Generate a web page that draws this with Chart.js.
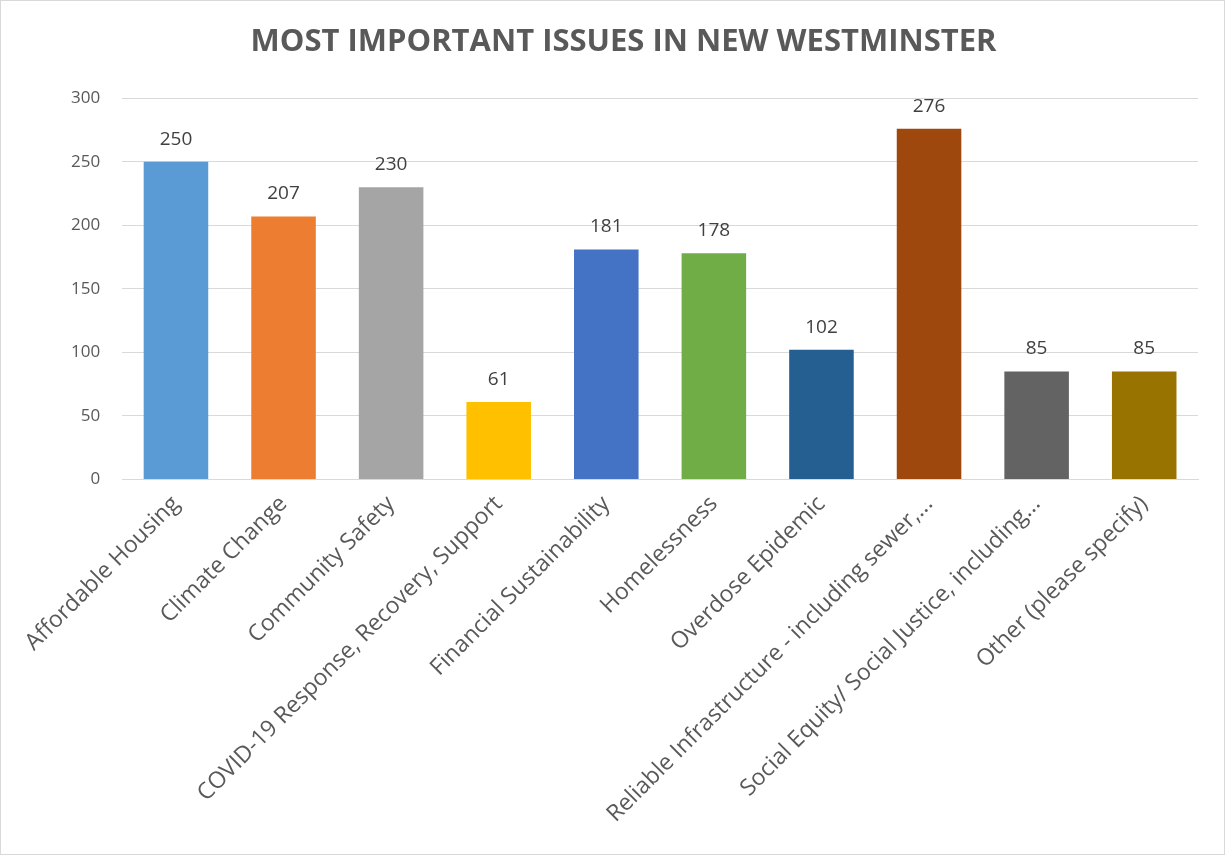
<!DOCTYPE html>
<html>
<head>
<meta charset="utf-8">
<script src="https://cdn.jsdelivr.net/npm/chart.js@4/dist/chart.umd.min.js"></script>
<style>
  html, body { margin: 0; padding: 0; background: #fff; }
  #wrap { width: 1223px; height: 853px; border: 1px solid #d9d9d9; position: relative; }
  canvas { display: block; }
</style>
</head>
<body>
<div id="wrap"><canvas id="chart"></canvas></div>
<script>
// chart data
const issues = [
  'Affordable Housing',
  'Climate Change',
  'Community Safety',
  'COVID-19 Response, Recovery, Support',
  'Financial Sustainability',
  'Homelessness',
  'Overdose Epidemic',
  'Reliable Infrastructure - including sewer,...',
  'Social Equity/ Social Justice, including...',
  'Other (please specify)'
];
const counts = [250, 207, 230, 61, 181, 178, 102, 276, 85, 85];
const barColors = ['#5B9BD5', '#ED7D31', '#A5A5A5', '#FFC000', '#4472C4', '#70AD47', '#255E91', '#9E480E', '#636363', '#997300'];

// value labels above each bar
const valueLabels = {
  id: 'valueLabels',
  afterDatasetsDraw(chart) {
    const ctx = chart.ctx;
    const meta = chart.getDatasetMeta(0);
    ctx.save();
    ctx.font = '19px "Open Sans", sans-serif';
    ctx.fillStyle = '#404040';
    ctx.textAlign = 'center';
    ctx.textBaseline = 'bottom';
    meta.data.forEach((bar, i) => {
      ctx.fillText(String(counts[i]), bar.x, bar.y - 13);
    });
    ctx.restore();
  }
};

new Chart(document.getElementById('chart'), {
  type: 'bar',
  data: {
    labels: issues,
    datasets: [{ data: counts, backgroundColor: barColors, barPercentage: 0.6, categoryPercentage: 1.0 }]
  },
  options: {
    responsive: true,
    maintainAspectRatio: false,
    animation: false,
    layout: { padding: { top: 10, right: 26, bottom: 23, left: 48 } },
    plugins: {
      legend: { display: false },
      tooltip: { enabled: false },
      title: {
        display: true,
        text: 'MOST IMPORTANT ISSUES IN NEW WESTMINSTER',
        color: '#595959',
        font: { family: '"Open Sans", sans-serif', size: 31, weight: 'bold' },
        padding: { top: 13, bottom: 37 }
      }
    },
    scales: {
      x: {
        grid: { display: false },
        border: { color: '#d9d9d9' },
        ticks: {
          color: '#595959',
          font: { family: '"Open Sans", sans-serif', size: 23 },
          minRotation: 45,
          maxRotation: 45,
          autoSkip: false
        }
      },
      y: {
        min: 0,
        max: 300,
        grid: { color: '#d9d9d9', drawTicks: false },
        border: { display: false },
        ticks: {
          stepSize: 50,
          color: '#595959',
          padding: 22,
          font: { family: '"Open Sans", sans-serif', size: 17 }
        }
      }
    }
  },
  plugins: [valueLabels]
});
</script>
</body>
</html>
